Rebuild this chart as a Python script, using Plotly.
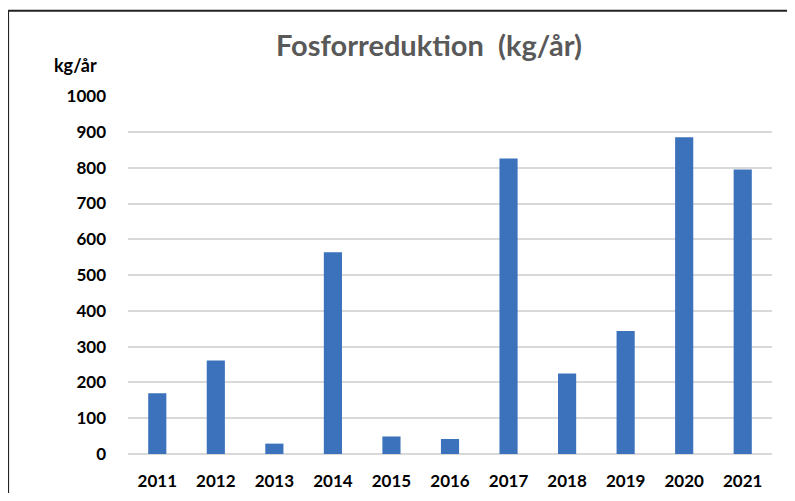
import plotly.graph_objects as go

years = ["2011", "2012", "2013", "2014", "2015", "2016", "2017", "2018", "2019", "2020", "2021"]
values = [170, 261, 29, 564, 49, 42, 826, 225, 344, 885, 795]
y_ticks = [0, 100, 200, 300, 400, 500, 600, 700, 800, 900, 1000]
title_text = "Fosforreduktion  (kg/år)"
unit_text = "kg/år"

# page has an 8px body margin; figure is sized to fit inside the window
OFF = 8
W, H = 795 - 2 * OFF, 501 - 2 * OFF
plot_left, plot_right, plot_top, plot_bottom = 128.4, 772.3, 95.5, 454.5
ml = plot_left - OFF
mr = W - (plot_right - OFF)
mt = plot_top - OFF
mb = H - (plot_bottom - OFF)
pw = W - ml - mr
ph = H - mt - mb

def px_x(x):
    return (x - OFF - ml) / pw

def px_y(y):
    return (H - mb - (y - OFF)) / ph

fig = go.Figure()
fig.add_trace(go.Bar(x=years, y=values, marker=dict(color="#3C72BC", line=dict(width=0)),
                     hoverinfo="x+y"))

fig.update_layout(
    width=W, height=H,
    margin=dict(l=ml, r=mr, t=mt, b=mb, pad=0, autoexpand=False),
    paper_bgcolor="white", plot_bgcolor="white",
    bargap=0.69,
    showlegend=False,
    font=dict(family="Lato", color="black"),
    xaxis=dict(type="category", showgrid=False, showline=False, zeroline=False,
               ticks="", ticklabelstandoff=15, automargin=False,
               tickfont=dict(family="Lato", size=17, color="black", weight="bold")),
    yaxis=dict(range=[0, 1000.5], tickvals=y_ticks, showgrid=True, gridcolor="#D9D9D9",
               gridwidth=1.5, zeroline=True, zerolinecolor="#D9D9D9", zerolinewidth=1.5,
               showline=False, ticks="", ticklabelstandoff=21, automargin=False,
               tickfont=dict(family="Lato", size=17, color="black", weight="bold")),
    annotations=[
        dict(text="<b>" + title_text + "</b>", xref="paper", yref="paper",
             x=px_x(429.5), y=px_y(44), xanchor="center", yanchor="middle",
             showarrow=False, font=dict(family="Lato", size=29, color="#595959")),
        dict(text="<b>" + unit_text + "</b>", xref="paper", yref="paper",
             x=px_x(52), y=px_y(64), xanchor="left", yanchor="middle",
             showarrow=False, font=dict(family="Lato", size=18, color="black")),
    ],
    shapes=[
        dict(type="line", xref="paper", yref="paper", x0=px_x(8.5), x1=px_x(810),
             y0=px_y(10), y1=px_y(10), line=dict(color="#222222", width=2)),
        dict(type="line", xref="paper", yref="paper", x0=px_x(8.5), x1=px_x(8.5),
             y0=px_y(10), y1=px_y(520), line=dict(color="#222222", width=2)),
    ],
)

fig.write_html("out.html")
